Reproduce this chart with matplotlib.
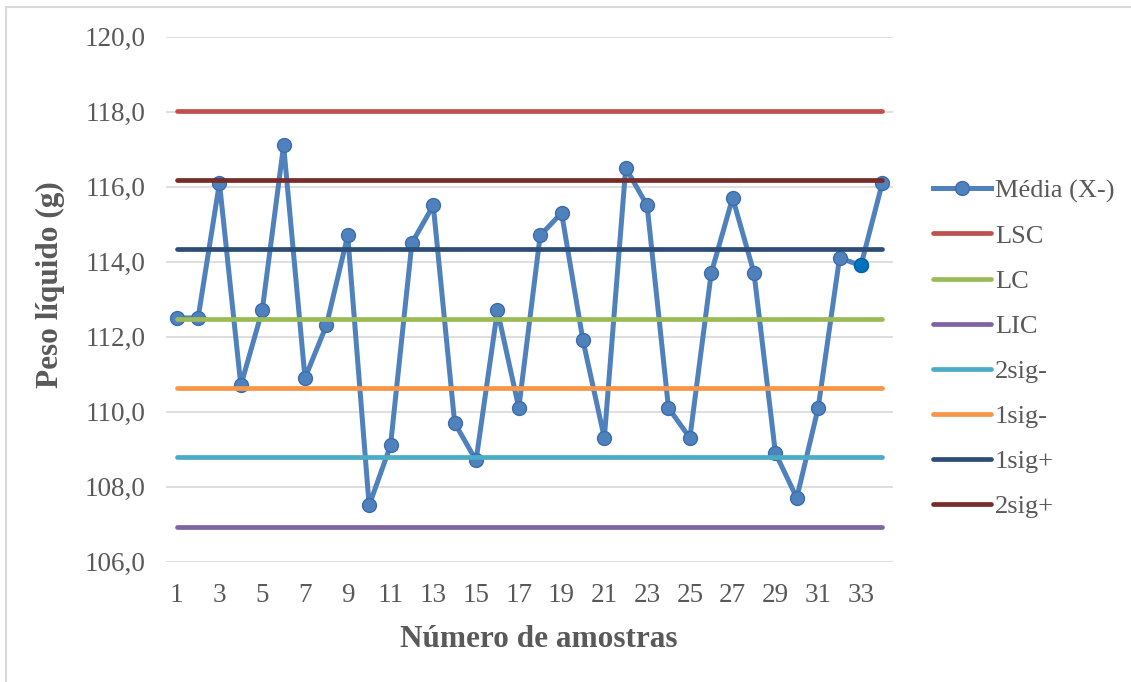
import matplotlib
matplotlib.use('Agg')
import matplotlib.pyplot as plt
from matplotlib.ticker import FuncFormatter

# Dados
amostras = list(range(1, 35))
media = [112.5, 112.5, 116.1, 110.7, 112.7, 117.1, 110.9, 112.3, 114.7, 107.5,
         109.1, 114.5, 115.5, 109.7, 108.7, 112.7, 110.1, 114.7, 115.3, 111.9,
         109.3, 116.5, 115.5, 110.1, 109.3, 113.7, 115.7, 113.7, 108.9, 107.7,
         110.1, 114.1, 113.9, 116.1]
ponto_destacado = 33

limites_nomes = ['LSC', 'LC', 'LIC', '2sig-', '1sig-', '1sig+', '2sig+']
limites_valores = [118.03, 112.48, 106.93, 108.78, 110.63, 114.33, 116.18]
limites_cores = ['#C0504D', '#9BBB59', '#8064A2', '#4BACC6', '#F79646', '#2C4D75', '#772C2A']

plt.rcParams['font.family'] = ['Liberation Serif', 'DejaVu Serif']
cinza = '#595959'

fig = plt.figure(figsize=(11.31, 6.82), dpi=100)
ax = fig.add_axes([166 / 1131, 1 - 561.7 / 682, (893 - 166) / 1131, 525 / 682])

# moldura do gráfico (estilo Excel)
fig.patches.append(plt.Rectangle((5.5 / 1131, -0.1), 1.2, 1.1 - 7 / 682,
                                 transform=fig.transFigure, fill=False,
                                 edgecolor='#D9D9D9', lw=1.5))

ax.plot(amostras, media, color='#4F81BD', lw=3.6, marker='o', markersize=10,
        markerfacecolor='#4F81BD', markeredgecolor='#3D6CAD', markeredgewidth=1,
        label='Média (X-)', zorder=2, solid_joinstyle='round')
i = amostras.index(ponto_destacado)
ax.plot([amostras[i]], [media[i]], marker='o', markersize=10, color='#0070C0',
        markeredgecolor='#0062A8', markeredgewidth=1, zorder=2.5, linestyle='none')

for nome, valor, cor in zip(limites_nomes, limites_valores, limites_cores):
    ax.plot([amostras[0], amostras[-1]], [valor, valor], color=cor, lw=3.4,
            solid_capstyle='round', label=nome, zorder=3)

ax.set_xlim(0.5, 34.5)
ax.set_ylim(106, 120)
ax.set_yticks([106, 108, 110, 112, 114, 116, 118, 120])
ax.set_xticks(amostras[::2])
ax.yaxis.set_major_formatter(FuncFormatter(lambda v, p: f'{v:.1f}'.replace('.', ',')))
ax.grid(axis='y', color='#D9D9D9', lw=1.2, zorder=0)
ax.set_axisbelow(True)
for s in ax.spines.values():
    s.set_visible(False)
ax.tick_params(axis='both', length=0, labelsize=19.5, colors=cinza)
ax.tick_params(axis='y', pad=15)
ax.tick_params(axis='x', pad=15)

ax.set_xlabel('Número de amostras', fontsize=22.5, fontweight='bold', color=cinza)
ax.set_ylabel('Peso líquido (g)', fontsize=22.5, fontweight='bold', color=cinza)
ax.xaxis.set_label_coords(0.513, -0.149)
ax.yaxis.set_label_coords(-0.1596, 0.527)
ax.xaxis.label.set_va('center')
ax.yaxis.label.set_va('center')

leg = fig.legend(loc='center left', bbox_to_anchor=(933 / 1131, 1 - 348.5 / 682),
                 frameon=False, fontsize=19, handlelength=2.2, handletextpad=0.15,
                 labelspacing=0.82, borderpad=0, borderaxespad=0)
for t in leg.get_texts():
    t.set_color(cinza)

plt.savefig('out.png', dpi=100)
